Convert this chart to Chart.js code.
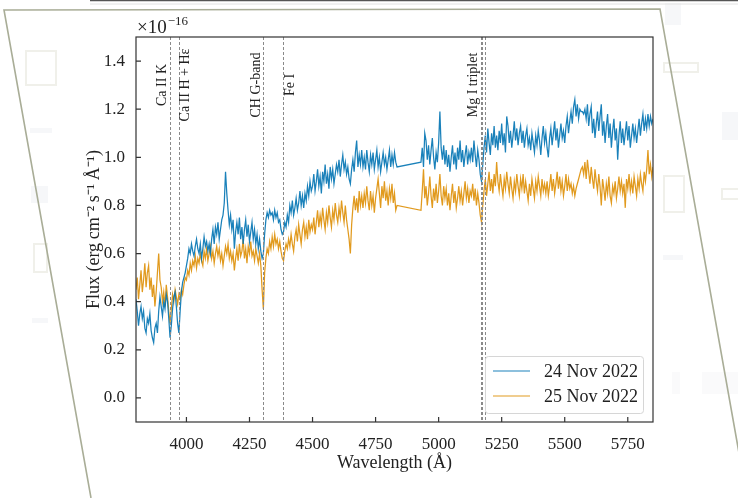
<!DOCTYPE html>
<html><head><meta charset="utf-8">
<script src="https://cdn.jsdelivr.net/npm/chart.js@4.4.1/dist/chart.umd.min.js"></script>
<style>html,body{margin:0;padding:0;background:#fff;overflow:hidden}</style>
</head><body>
<canvas id="c" width="738" height="498"></canvas>
<script>
// ---- data (wavelength in Angstrom, flux in units of 1e-16 erg cm^-2 s^-1 A^-1) ----
const wavelengths = [
3800,3805,3810,3815,3820,3825,3830,3835,3840,3845,3850,3855,3860,3865,3870,3875,3880,3885,3890,3895,
3900,3905,3910,3915,3920,3925,3930,3935,3940,3945,3950,3955,3960,3965,3970,3975,3980,3985,3990,3995,
4000,4005,4010,4015,4020,4025,4030,4035,4040,4045,4050,4055,4060,4065,4070,4075,4080,4085,4090,4095,
4100,4105,4110,4115,4120,4125,4130,4135,4140,4145,4150,4155,4160,4165,4170,4175,4180,4185,4190,4195,
4200,4205,4210,4215,4220,4225,4230,4235,4240,4245,4250,4255,4260,4265,4270,4275,4280,4285,4290,4295,
4300,4305,4310,4315,4320,4325,4330,4335,4340,4345,4350,4355,4360,4365,4370,4375,4380,4385,4390,4395,
4400,4405,4410,4415,4420,4425,4430,4435,4440,4445,4450,4455,4460,4465,4470,4475,4480,4485,4490,4495,
4500,4505,4510,4515,4520,4525,4530,4535,4540,4545,4550,4555,4560,4565,4570,4575,4580,4585,4590,4595,
4600,4605,4610,4615,4620,4625,4630,4635,4640,4645,4650,4655,4660,4665,4670,4675,4680,4685,4690,4695,
4700,4705,4710,4715,4720,4725,4730,4735,4740,4745,4750,4755,4760,4765,4770,4775,4780,4785,4790,4795,
4800,4805,4810,4815,4820,4825,4830,4835,
4930,4935,4940,4945,4950,4955,4960,4965,4970,4975,4980,4985,4990,4995,5000,5005,5010,5015,5020,5025,
5030,5035,5040,5045,5050,5055,5060,5065,5070,5075,5080,5085,5090,5095,5100,5105,5110,5115,5120,5125,
5130,5135,5140,5145,5150,5155,5160,5165,5170,5175,5180,5185,5190,5195,5200,5205,5210,5215,5220,5225,
5230,5235,5240,5245,5250,5255,5260,5265,5270,5275,5280,5285,5290,5295,5300,5305,5310,5315,5320,5325,
5330,5335,5340,5345,5350,5355,5360,5365,5370,5375,5380,5385,5390,5395,5400,5405,5410,5415,5420,5425,
5430,5435,5440,5445,5450,5455,5460,5465,5470,5475,5480,5485,5490,5495,5500,5505,5510,5515,5520,5525,
5530,5535,5540,5545,5550,5555,5560,5565,5570,5575,5580,5585,5590,5595,5600,5605,5610,5615,5620,5625,
5630,5635,5640,5645,5650,5655,5660,5665,5670,5675,5680,5685,5690,5695,5700,5705,5710,5715,5720,5725,
5730,5735,5740,5745,5750,5755,5760,5765,5770,5775,5780,5785,5790,5795,5800,5805,5810,5815,5820,5825,
5830,5835,5840,5845,5850];

const flux24Nov = [
0.41,0.36,0.30,0.35,0.38,0.33,0.36,0.29,0.27,0.33,0.31,0.35,0.28,0.25,0.23,0.29,0.31,0.27,0.36,0.42,
0.38,0.34,0.40,0.37,0.43,0.40,0.33,0.25,0.30,0.37,0.42,0.44,0.38,0.31,0.27,0.36,0.44,0.48,0.50,0.52,
0.55,0.58,0.62,0.60,0.64,0.61,0.59,0.63,0.66,0.62,0.60,0.64,0.58,0.62,0.67,0.63,0.65,0.61,0.64,0.60,
0.66,0.70,0.64,0.71,0.68,0.73,0.66,0.70,0.74,0.76,0.81,0.94,0.85,0.78,0.72,0.76,0.70,0.74,0.62,0.69,
0.73,0.68,0.75,0.66,0.71,0.64,0.70,0.74,0.67,0.72,0.65,0.69,0.73,0.66,0.70,0.64,0.68,0.62,0.66,0.61,
0.58,0.60,0.68,0.74,0.77,0.75,0.78,0.76,0.77,0.74,0.78,0.75,0.77,0.73,0.74,0.70,0.68,0.69,0.73,0.71,
0.76,0.73,0.80,0.77,0.82,0.76,0.79,0.83,0.78,0.81,0.86,0.80,0.84,0.79,0.85,0.82,0.88,0.84,0.90,0.86,
0.88,0.93,0.86,0.90,0.95,0.88,0.92,0.85,0.94,0.90,0.97,0.89,0.93,0.87,0.96,0.91,0.95,0.89,0.93,0.97,
0.94,0.99,0.92,0.97,1.01,0.95,0.98,0.93,0.96,0.91,0.89,0.95,0.99,0.94,1.02,1.07,0.96,1.01,0.97,1.03,
0.96,1.00,0.95,1.03,0.98,0.94,1.01,0.97,1.02,0.95,0.99,1.03,0.96,1.00,0.94,0.98,1.02,0.97,1.00,0.95,
0.99,1.03,0.96,1.01,0.97,1.02,0.98,0.96,
0.98,1.04,0.96,1.10,1.07,0.99,1.05,0.97,1.03,1.08,1.00,0.95,1.02,0.98,1.06,1.19,1.04,0.99,1.05,0.97,
1.03,0.96,1.01,0.94,1.00,1.05,0.97,1.02,0.95,1.04,0.99,1.07,0.98,1.03,0.96,1.01,1.05,0.97,1.02,0.99,
1.04,0.98,1.07,1.01,0.96,1.03,0.99,0.93,0.90,0.97,1.04,1.09,1.02,1.12,1.06,1.01,1.10,1.05,1.13,1.04,
1.09,1.03,1.11,1.06,1.14,1.05,1.10,1.02,1.17,1.13,1.06,1.11,1.04,1.09,1.15,1.07,1.12,1.05,1.10,1.13,
1.06,1.11,1.04,1.09,1.12,1.05,1.08,1.03,1.10,1.06,1.02,1.09,1.05,1.11,1.07,1.01,1.08,1.13,1.06,1.10,
1.04,1.00,1.08,1.12,1.05,1.10,1.15,1.07,1.12,1.04,1.09,1.14,1.08,1.11,1.06,1.13,1.17,1.10,1.15,1.19,
1.14,1.21,1.24,1.17,1.22,1.16,1.20,1.19,1.19,1.18,1.20,1.16,1.22,1.13,1.18,1.21,1.10,1.16,1.08,1.14,
1.19,1.11,1.17,1.22,1.09,1.15,1.06,1.13,1.18,1.08,1.14,1.04,1.11,1.16,1.07,1.12,0.99,1.09,1.15,1.06,
1.12,1.05,1.10,1.15,1.07,1.13,1.04,1.09,1.14,1.08,1.12,1.06,1.11,1.16,1.09,1.14,1.18,1.11,1.16,1.12,
1.18,1.13,1.17,1.14,1.16];

const flux25Nov = [
0.45,0.50,0.41,0.47,0.53,0.44,0.49,0.56,0.46,0.52,0.55,0.45,0.50,0.42,0.47,0.38,0.44,0.52,0.60,0.49,
0.46,0.40,0.44,0.38,0.47,0.42,0.36,0.31,0.37,0.43,0.40,0.45,0.42,0.39,0.43,0.41,0.45,0.43,0.47,0.50,
0.49,0.53,0.51,0.56,0.53,0.57,0.55,0.59,0.54,0.58,0.56,0.60,0.57,0.55,0.61,0.58,0.62,0.57,0.60,0.63,
0.58,0.61,0.56,0.60,0.63,0.59,0.62,0.57,0.60,0.55,0.59,0.63,0.60,0.64,0.58,0.61,0.57,0.60,0.53,0.58,
0.62,0.57,0.64,0.59,0.61,0.66,0.58,0.62,0.56,0.63,0.60,0.65,0.59,0.61,0.57,0.62,0.59,0.56,0.60,0.55,
0.45,0.37,0.52,0.58,0.62,0.60,0.65,0.62,0.67,0.63,0.68,0.64,0.66,0.62,0.65,0.61,0.58,0.57,0.61,0.64,
0.62,0.66,0.63,0.68,0.64,0.61,0.67,0.70,0.65,0.72,0.68,0.64,0.70,0.73,0.67,0.71,0.66,0.74,0.69,0.72,
0.70,0.75,0.68,0.73,0.78,0.71,0.76,0.72,0.79,0.74,0.70,0.77,0.73,0.80,0.75,0.71,0.78,0.74,0.81,0.76,
0.73,0.79,0.75,0.82,0.77,0.73,0.80,0.74,0.70,0.66,0.60,0.72,0.79,0.84,0.78,0.83,0.77,0.86,0.80,0.84,
0.79,0.85,0.81,0.88,0.82,0.78,0.86,0.80,0.84,0.77,0.83,0.87,0.91,0.85,0.79,0.88,0.83,0.90,0.82,0.86,
0.80,0.87,0.83,0.89,0.81,0.85,0.78,0.80,
0.78,0.86,0.95,0.83,0.88,0.80,0.85,0.92,0.84,0.79,0.87,0.82,0.89,0.81,0.86,0.93,0.84,0.80,0.88,0.83,
0.87,0.80,0.85,0.78,0.84,0.89,0.81,0.86,0.79,0.83,0.88,0.82,0.86,0.80,0.85,0.90,0.83,0.87,0.81,0.86,
0.84,0.89,0.82,0.87,0.80,0.85,0.81,0.76,0.73,0.80,0.86,0.91,0.84,0.89,0.94,0.86,0.91,0.85,0.93,0.88,
0.98,0.90,0.86,0.93,0.88,0.84,0.91,0.87,0.94,0.89,0.85,0.92,0.87,0.83,0.90,0.86,0.93,0.88,0.84,0.91,
0.87,0.93,0.85,0.90,0.86,0.82,0.89,0.84,0.91,0.87,0.83,0.90,0.86,0.92,0.88,0.84,0.91,0.86,0.89,0.85,
0.90,0.84,0.88,0.93,0.86,0.91,0.85,0.89,0.94,0.87,0.92,0.86,0.90,0.84,0.88,0.93,0.86,0.91,0.87,0.89,
0.85,0.88,0.84,0.87,0.89,0.91,0.93,0.95,0.96,0.93,0.98,0.91,0.99,0.94,0.89,0.96,0.91,0.87,0.95,0.90,
0.86,0.93,0.88,0.80,0.91,0.87,0.82,0.89,0.85,0.92,0.84,0.81,0.88,0.85,0.90,0.83,0.87,0.92,0.86,0.90,
0.85,0.89,0.79,0.91,0.87,0.93,0.86,0.90,0.85,0.92,0.88,0.84,0.91,0.87,0.93,0.89,0.86,0.94,0.90,0.95,
1.03,0.93,0.97,0.92,0.96];

const seriesLabels = ['24 Nov 2022', '25 Nov 2022'];
const xTicks = [4000, 4250, 4500, 4750, 5000, 5250, 5500, 5750];
const yTicks = [0.0, 0.2, 0.4, 0.6, 0.8, 1.0, 1.2, 1.4];
const lineNames = ['Ca II K', 'Ca II H + H\u03b5', 'CH G-band', 'Fe I', 'Mg I triplet'];
const lineWavelengths = [[3934], [3969], [4305], [4383], [5167, 5173, 5184]];

// ---- styles ----
const FONT = '"Liberation Serif", "Times New Roman", serif';
const colors = ['rgba(1,115,178,0.9)', 'rgba(222,143,5,0.9)'];
const legendColors = ['rgba(1,115,178,0.6)', 'rgba(222,143,5,0.6)'];
const labelSide = [-1, 1, -1, 1, -1];

const toPts = arr => wavelengths.map((w, i) => ({x: w, y: arr[i]}));

const decor = {
  id: 'decor',
  beforeDraw(chart) {
    const ctx = chart.ctx;
    ctx.save();
    ctx.fillStyle = '#fff';
    ctx.fillRect(0, 0, chart.width, chart.height);
    ctx.strokeStyle = '#f0f0ea'; ctx.lineWidth = 2;
    ctx.strokeRect(26, 51, 30, 34);
    ctx.strokeRect(34, 244, 13, 28);
    ctx.strokeRect(664, 176, 20, 36);
    ctx.strokeRect(664, 63, 34, 9);
    ctx.strokeRect(722, 189, 18, 10);
    ctx.fillStyle = '#f6f7f9';
    ctx.fillRect(31, 186, 17, 17);
    ctx.fillRect(30, 128, 22, 5);
    ctx.fillRect(32, 318, 16, 5);
    ctx.fillRect(663, 255, 20, 5);
    ctx.fillRect(665, 3, 16, 22);
    ctx.fillRect(722, 112, 16, 28);
    ctx.fillStyle = '#fafafb';
    ctx.fillRect(672, 372, 8, 22);
    ctx.fillRect(702, 372, 36, 22);
    ctx.strokeStyle = '#555'; ctx.lineWidth = 1.5;
    ctx.beginPath(); ctx.moveTo(90, 0.5); ctx.lineTo(738, 0.5); ctx.stroke();
    ctx.strokeStyle = '#e2e2e2'; ctx.lineWidth = 1;
    ctx.beginPath(); ctx.moveTo(90, 4); ctx.lineTo(738, 4); ctx.stroke();
    ctx.strokeStyle = '#a9ad97'; ctx.lineWidth = 1.6;
    ctx.beginPath();
    ctx.moveTo(91, 498); ctx.lineTo(4, 10); ctx.lineTo(660, 9); ctx.lineTo(747, 498);
    ctx.stroke();
    ctx.restore();
  }
};

const overlay = {
  id: 'overlay',
  afterDatasetsDraw(chart) {
    const ctx = chart.ctx, a = chart.chartArea;
    const xs = chart.scales.x;
    ctx.save();
    ctx.strokeStyle = '#8a8a8a'; ctx.lineWidth = 1; ctx.setLineDash([3, 2]);
    lineWavelengths.forEach(ws => ws.forEach(w => {
      const px = Math.round(xs.getPixelForValue(w)) + 0.5;
      ctx.beginPath(); ctx.moveTo(px, a.top); ctx.lineTo(px, a.bottom); ctx.stroke();
    }));
    ctx.setLineDash([]);
    ctx.fillStyle = '#222';
    ctx.font = '14px ' + FONT;
    ctx.textAlign = 'center'; ctx.textBaseline = 'middle';
    lineNames.forEach((n, i) => {
      const ws = lineWavelengths[i];
      const base = labelSide[i] < 0 ? xs.getPixelForValue(ws[0]) : xs.getPixelForValue(ws[ws.length - 1]);
      const px = base + labelSide[i] * 7;
      ctx.save(); ctx.translate(px, 85); ctx.rotate(-Math.PI / 2);
      ctx.fillText(n, 0, 0); ctx.restore();
    });
    ctx.restore();
  },
  afterDraw(chart) {
    const ctx = chart.ctx, a = chart.chartArea;
    const xs = chart.scales.x, ys = chart.scales.y;
    ctx.save();
    ctx.strokeStyle = '#333'; ctx.lineWidth = 1.2;
    ctx.strokeRect(a.left, a.top, a.right - a.left, a.bottom - a.top);
    ctx.beginPath();
    xTicks.forEach(v => { const p = xs.getPixelForValue(v); ctx.moveTo(p, a.bottom); ctx.lineTo(p, a.bottom - 5); });
    yTicks.forEach(v => { const p = ys.getPixelForValue(v); ctx.moveTo(a.left, p); ctx.lineTo(a.left + 5, p); });
    ctx.stroke();
    ctx.fillStyle = '#222'; ctx.textBaseline = 'alphabetic'; ctx.textAlign = 'left';
    ctx.font = '19px ' + FONT;
    ctx.fillText('\u00d710', a.left + 1, a.top - 4);
    const w = ctx.measureText('\u00d710').width;
    ctx.font = '13px ' + FONT;
    ctx.fillText('\u221216', a.left + 1 + w + 1, a.top - 12);
    const lx = 485, ly = 356, lw = 158, lh = 57;
    ctx.fillStyle = 'rgba(255,255,255,0.85)';
    ctx.strokeStyle = '#d6d6d6'; ctx.lineWidth = 1;
    ctx.beginPath();
    if (ctx.roundRect) ctx.roundRect(lx + 0.5, ly + 0.5, lw, lh, 3); else ctx.rect(lx + 0.5, ly + 0.5, lw, lh);
    ctx.fill(); ctx.stroke();
    ctx.font = '18px ' + FONT; ctx.textBaseline = 'middle'; ctx.fillStyle = '#222';
    seriesLabels.forEach((s, i) => {
      const yy = ly + 15 + i * 25;
      ctx.strokeStyle = legendColors[i]; ctx.lineWidth = 1.6;
      ctx.beginPath(); ctx.moveTo(lx + 8, yy); ctx.lineTo(lx + 45, yy); ctx.stroke();
      ctx.fillText(s, lx + 59, yy + 1);
    });
    ctx.restore();
  }
};

new Chart(document.getElementById('c'), {
  type: 'line',
  data: {
    datasets: [
      {label: seriesLabels[0], data: toPts(flux24Nov), borderColor: colors[0], borderWidth: 1.25, pointRadius: 0, tension: 0, fill: false},
      {label: seriesLabels[1], data: toPts(flux25Nov), borderColor: colors[1], borderWidth: 1.25, pointRadius: 0, tension: 0, fill: false}
    ]
  },
  options: {
    responsive: false, animation: false, devicePixelRatio: 1,
    layout: {padding: {left: 83, right: 85, top: 37, bottom: 24}},
    plugins: {legend: {display: false}, tooltip: {enabled: false}},
    scales: {
      x: {
        type: 'linear', min: 3800, max: 5850,
        afterBuildTicks: s => { s.ticks = xTicks.map(v => ({value: v})); },
        afterFit: s => { s.height = 52; },
        grid: {display: false}, border: {display: false},
        ticks: {color: '#222', font: {family: FONT, size: 17}, padding: 4, maxRotation: 0, callback: v => String(v)},
        title: {display: true, text: 'Wavelength (\u00c5)', color: '#222', font: {family: FONT, size: 18}, padding: 0}
      },
      y: {
        type: 'linear', min: -0.1, max: 1.5,
        afterBuildTicks: s => { s.ticks = yTicks.map(v => ({value: v})); },
        afterFit: s => { s.width = 53; },
        grid: {display: false}, border: {display: false},
        ticks: {color: '#222', font: {family: FONT, size: 17}, padding: 3, callback: v => v.toFixed(1)},
        title: {display: true, text: 'Flux (erg\u2009cm\u207b\u00b2\u2009s\u207b\u00b9\u2009\u00c5\u207b\u00b9)', color: '#222', font: {family: FONT, size: 18}, padding: 0}
      }
    }
  },
  plugins: [decor, overlay]
});
</script>
</body></html>
